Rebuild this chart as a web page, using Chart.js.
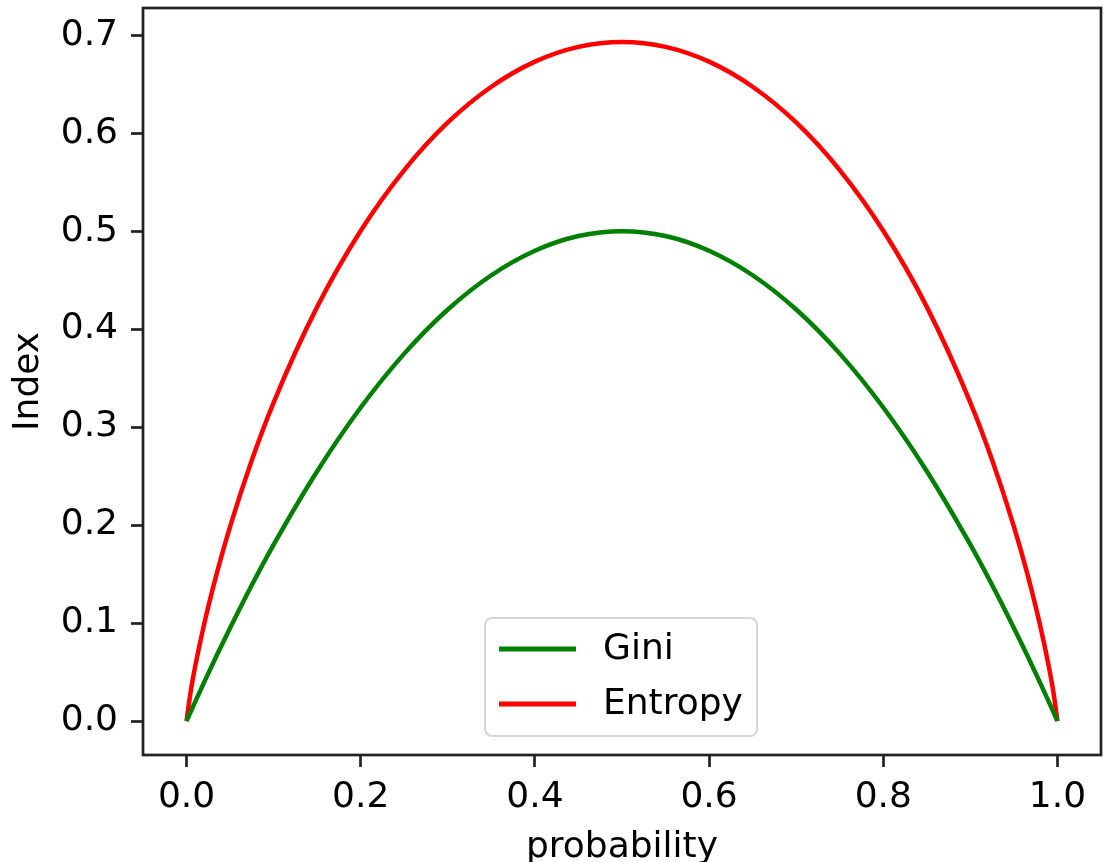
<!DOCTYPE html>
<html>
<head>
<meta charset="utf-8">
<script src="https://cdn.jsdelivr.net/npm/chart.js@4.4.1/dist/chart.umd.min.js"></script>
<style>
  html, body { margin: 0; padding: 0; background: #fff; }
  #chart { display: block; }
</style>
</head>
<body>
<canvas id="chart" width="1109" height="862"></canvas>
<script>
// Datos
const probabilities = [0, 0.005, 0.01, 0.02, 0.035, 0.05, 0.075, 0.1, 0.15, 0.2, 0.25, 0.3, 0.35, 0.4, 0.45, 0.5,
  0.55, 0.6, 0.65, 0.7, 0.75, 0.8, 0.85, 0.9, 0.925, 0.95, 0.965, 0.98, 0.99, 0.995, 1];
const giniValues = [0, 0.00995, 0.0198, 0.0392, 0.0676, 0.095, 0.1388, 0.18, 0.255, 0.32, 0.375, 0.42, 0.455, 0.48, 0.495, 0.5,
  0.495, 0.48, 0.455, 0.42, 0.375, 0.32, 0.255, 0.18, 0.1388, 0.095, 0.0676, 0.0392, 0.0198, 0.00995, 0];
const entropyValues = [0, 0.0315, 0.056, 0.098, 0.1517, 0.1985, 0.2664, 0.3251, 0.4227, 0.5004, 0.5623, 0.6109, 0.6474, 0.673, 0.6881, 0.6931,
  0.6881, 0.673, 0.6474, 0.6109, 0.5623, 0.5004, 0.4227, 0.3251, 0.2664, 0.1985, 0.1517, 0.098, 0.056, 0.0315, 0];
const seriesLabels = ['Gini', 'Entropy'];
const xTickValues = [0, 0.2, 0.4, 0.6, 0.8, 1.0];
const yTickValues = [0, 0.1, 0.2, 0.3, 0.4, 0.5, 0.6, 0.7];
const xTitle = 'probability';
const yTitle = 'Index';

const FONT = 'DejaVu Sans';
const FONT_SIZE = 36;
const INK = '#222222';

function toPoints(xs, ys) {
  return xs.map((x, i) => ({ x: x, y: ys[i] }));
}

// margen del 5% como matplotlib
function paddedRange(values) {
  const lo = Math.min(...values), hi = Math.max(...values);
  const m = (hi - lo) * 0.05;
  return [lo - m, hi + m];
}
const xRange = paddedRange(probabilities);
const yRange = paddedRange(giniValues.concat(entropyValues));

// Marco y leyenda dibujados encima de las líneas
const framePlugin = {
  id: 'frameAndLegend',
  afterDatasetsDraw(chart) {
    const ctx = chart.ctx;
    const a = chart.chartArea;
    ctx.save();
    ctx.strokeStyle = INK;
    ctx.lineWidth = 2.7;
    ctx.strokeRect(a.left, a.top, a.right - a.left, a.bottom - a.top);

    // leyenda
    const bx = 485, by = 618, bw = 272, bh = 118, r = 7;
    ctx.beginPath();
    ctx.roundRect(bx, by, bw, bh, r);
    ctx.fillStyle = 'rgba(255,255,255,0.8)';
    ctx.fill();
    ctx.lineWidth = 2;
    ctx.strokeStyle = '#d6d6d6';
    ctx.stroke();

    ctx.font = FONT_SIZE + 'px "' + FONT + '"';
    ctx.textBaseline = 'middle';
    ctx.textAlign = 'left';
    chart.data.datasets.forEach((ds, i) => {
      const y = 649 + i * 55;
      ctx.beginPath();
      ctx.moveTo(499, y);
      ctx.lineTo(576, y);
      ctx.strokeStyle = ds.borderColor;
      ctx.lineWidth = 5;
      ctx.stroke();
      ctx.fillStyle = '#000';
      ctx.fillText(ds.label, 603, y + 1);
    });
    ctx.restore();
  }
};

const ctx = document.getElementById('chart').getContext('2d');
new Chart(ctx, {
  type: 'scatter',
  data: {
    datasets: [
      {
        label: seriesLabels[0],
        data: toPoints(probabilities, giniValues),
        showLine: true,
        borderColor: '#008000',
        borderWidth: 4.5,
        pointRadius: 0,
        cubicInterpolationMode: 'monotone',
        fill: false
      },
      {
        label: seriesLabels[1],
        data: toPoints(probabilities, entropyValues),
        showLine: true,
        borderColor: '#ff0000',
        borderWidth: 4.5,
        pointRadius: 0,
        cubicInterpolationMode: 'monotone',
        fill: false
      }
    ]
  },
  options: {
    responsive: false,
    animation: false,
    devicePixelRatio: 1,
    layout: { padding: { top: 8, right: 8, left: 0, bottom: 0 } },
    plugins: {
      legend: { display: false },
      tooltip: { enabled: false }
    },
    scales: {
      x: {
        type: 'linear',
        min: xRange[0],
        max: xRange[1],
        afterBuildTicks: scale => { scale.ticks = xTickValues.map(v => ({ value: v })); },
        afterFit: scale => {
          scale.height = 107;
          scale.paddingLeft = 0;
          scale.paddingRight = 0;
        },
        border: { display: false },
        grid: { display: true, drawOnChartArea: false, drawTicks: true, tickLength: 12, tickWidth: 2.7, tickColor: INK },
        ticks: {
          padding: 9,
          maxRotation: 0,
          color: '#000',
          font: { family: FONT, size: FONT_SIZE },
          callback: v => v.toFixed(1)
        },
        title: {
          display: true,
          text: xTitle,
          color: '#000',
          font: { family: FONT, size: FONT_SIZE, lineHeight: 1 },
          padding: { top: 0, bottom: -4 }
        }
      },
      y: {
        type: 'linear',
        min: yRange[0],
        max: yRange[1],
        afterBuildTicks: scale => { scale.ticks = yTickValues.map(v => ({ value: v })); },
        afterFit: scale => {
          scale.width = 143;
          scale.paddingTop = 0;
          scale.paddingBottom = 0;
        },
        border: { display: false },
        grid: { display: true, drawOnChartArea: false, drawTicks: true, tickLength: 12, tickWidth: 2.7, tickColor: INK },
        ticks: {
          padding: 13,
          color: '#000',
          font: { family: FONT, size: FONT_SIZE },
          callback: v => v.toFixed(1)
        },
        title: {
          display: true,
          text: yTitle,
          color: '#000',
          font: { family: FONT, size: FONT_SIZE, lineHeight: 1 },
          padding: { top: 11, bottom: 0 }
        }
      }
    }
  },
  plugins: [framePlugin]
});
</script>
</body>
</html>
